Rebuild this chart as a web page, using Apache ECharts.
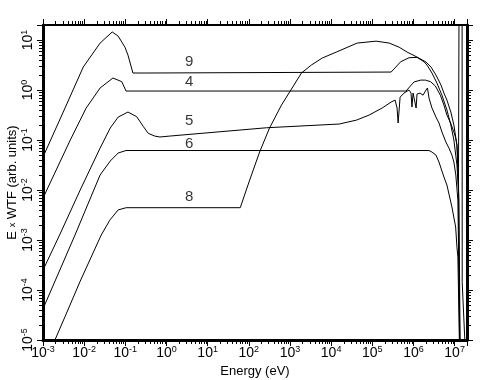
<!DOCTYPE html>
<html><head><meta charset="utf-8">
<script src="https://cdn.jsdelivr.net/npm/echarts@6/dist/echarts.min.js"></script>
<style>html,body{margin:0;padding:0;background:#fff}#c{width:486px;height:380px}</style>
</head><body><div id="c"></div>
<script>
// Curve 9
const energy9 = [0.001, 0.0031, 0.0095, 0.0244, 0.048, 0.067, 0.098, 0.116, 0.153, 0.32, 0.355, 2.87e5, 4.9e5, 7.8e5, 1.22e6, 1.81e6, 2.13e6, 2.82e6, 3.72e6, 4.92e6, 6.5e6, 8.1e6, 9.6e6, 1.14e7, 1.24e7, 1.28e7, 1.52e7, 1.53e7, 1.77e7];
const wtf9    = [0.0457, 0.363, 2.88, 8.7, 14.5, 12, 7.2, 5.0, 2.19, 2.19, 2.29, 2.29, 3.68, 4.43, 4.5, 3.68, 3.16, 2.19, 1.38, 0.79, 0.40, 0.2, 0.1, 0.0316, 0.01, 40, 40, 1.4e-4, 1e-5];
// Curve 4
const energy4 = [0.001, 0.0046, 0.0112, 0.0244, 0.050, 0.082, 0.104, 6.6e5, 1.03e6, 1.5e6, 1.96e6, 2.6e6, 3.4e6, 4.5e6, 5.5e6, 6.5e6, 8.0e6, 9.6e6, 1.06e7, 1.14e7, 1.27e7, 1.36e7];
const wtf4    = [0.0069, 0.10, 0.437, 1.1, 1.74, 1.47, 0.955, 0.955, 1.45, 1.58, 1.58, 1.47, 1.21, 0.79, 0.5, 0.316, 0.219, 0.145, 0.11, 0.079, 0.0063, 1e-5];
// Curve 5
const energy5 = [0.001, 0.0026, 0.008, 0.0244, 0.043, 0.067, 0.116, 0.19, 0.273, 0.36, 0.52, 0.69, 1.2, 270, 1.58e4, 4.1e4, 8.4e4, 1.74e5, 2.87e5, 3.58e5, 4.0e5, 4.24e5, 4.74e5, 5.9e5, 7.8e5, 8.75e5, 9.2e5, 9.8e5, 1.09e6, 1.16e6, 1.22e6, 1.45e6, 1.71e6, 2.02e6, 2.19e6, 2.39e6, 2.82e6, 3.52e6, 4.17e6, 4.92e6, 6.15e6, 7.3e6, 8.6e6, 9.6e6, 1.07e7, 1.2e7, 1.34e7];
const wtf5    = [2.5e-4, 1.32e-3, 0.01, 0.069, 0.174, 0.288, 0.363, 0.292, 0.187, 0.136, 0.120, 0.115, 0.120, 0.176, 0.209, 0.25, 0.316, 0.437, 0.575, 0.63, 0.437, 0.219, 0.72, 0.87, 1.0, 0.87, 0.457, 0.87, 0.87, 0.437, 0.83, 0.87, 0.79, 1.0, 1.1, 0.69, 0.437, 0.288, 0.219, 0.145, 0.091, 0.069, 0.05, 0.0363, 0.02, 0.0063, 1e-5];
// Curve 6
const energy6 = [0.001, 0.006, 0.0244, 0.043, 0.067, 0.104, 2.39e6, 2.82e6, 3.52e6, 4.17e6, 4.66e6, 5.5e6, 6.5e6, 8.6e6, 1.06e7, 1.14e7, 1.2e7, 1.31e7];
const wtf6    = [4.2e-5, 1.26e-3, 0.02, 0.038, 0.055, 0.0617, 0.0617, 0.0575, 0.05, 0.0363, 0.0275, 0.0182, 0.0126, 0.00457, 0.00182, 7.2e-4, 4.6e-4, 1e-5];
// Curve 8
const energy8 = [0.001, 0.00347, 0.008, 0.026, 0.042, 0.067, 0.105, 62, 105, 183, 319, 622, 1090, 1900, 3300, 6100, 1.34e4, 4.3e4, 1.24e5, 2.57e5, 4.48e5, 7.0e5, 1.22e6, 2.02e6, 2.67e6, 3.52e6, 4.66e6, 5.5e6, 6.5e6, 8.1e6, 9.6e6, 1.14e7, 1.24e7, 1.31e7];
const wtf8    = [2.8e-6, 3.0e-5, 1.5e-4, 1.26e-3, 0.0025, 0.004, 0.00443, 0.00443, 0.0158, 0.0575, 0.174, 0.50, 1.05, 2.19, 3.16, 4.37, 5.75, 8.7, 9.5, 8.7, 7.2, 5.75, 4.57, 3.63, 2.88, 2.0, 1.26, 0.87, 0.63, 0.363, 0.2, 0.079, 0.025, 1e-5];
// Curve labels
const labelText   = ['9', '4', '5', '6', '8'];
const labelEnergy = [3.55, 3.55, 3.55, 3.55, 3.55];
const labelWtf    = [3.68, 1.43, 0.24, 0.083, 0.00735];
// Axis ranges and minor tick multipliers
const xMin = 1e-3, xMax = 2e7, yMin = 1e-5, yMax = 20;
const minorMultipliers = [2, 3, 4, 5, 6, 7, 8, 9];
const xTitle = 'Energy (eV)';

const FONT = 'Liberation Sans';
function zip(a, b) { return a.map((v, i) => [v, b[i]]); }
function minorValues(lo, hi) {
  const out = [];
  for (let e = Math.floor(Math.log10(lo)); e <= Math.ceil(Math.log10(hi)); e++) {
    for (const m of minorMultipliers) { const v = m * Math.pow(10, e); if (v > lo * 1.0001 && v < hi * 0.9999) out.push(v); }
  }
  return out;
}
function supLabel(v) {
  const l = Math.log10(v), e = Math.round(l);
  if (Math.abs(l - e) > 1e-6) return '';
  return '{b|10}{e|' + e + '}';
}
const rich = {
  b: {fontSize: 14, fontFamily: FONT, color: '#000', lineHeight: 16},
  e: {fontSize: 9, fontFamily: FONT, color: '#000', lineHeight: 16, verticalAlign: 'top'}
};
function axisCommon(showLabel, rot, margin, lw) {
  return {
    type: 'log', logBase: 10, interval: 1,
    axisLine: {show: true, onZero: false, lineStyle: {color: '#000', width: lw}},
    axisTick: {show: true, length: 6, lineStyle: {color: '#000', width: 1}},
    minorTick: {show: false},
    splitLine: {show: false}, minorSplitLine: {show: false},
    axisLabel: {show: showLabel, formatter: supLabel, rich: rich, rotate: rot, margin: margin, align: 'center', hideOverlap: false, showMinLabel: true, showMaxLabel: true}
  };
}
const TL = 4;
const tickStyle = {stroke: '#000', lineWidth: 1};
function px(v) { return Math.round(v) + 0.5; }
const chart = echarts.init(document.getElementById('c'));
const series = [[energy9, wtf9], [energy4, wtf4], [energy5, wtf5], [energy6, wtf6], [energy8, wtf8]].map(c => ({
  type: 'line', data: zip(c[0], c[1]), symbol: 'none', showSymbol: false, clip: true, silent: true,
  lineStyle: {color: '#000', width: 1}, animation: false
}));
series.push({
  type: 'scatter', symbolSize: 0, silent: true, animation: false,
  data: labelText.map((t, i) => ({name: t, value: [labelEnergy[i], labelWtf[i]]})),
  label: {show: true, position: 'inside', formatter: '{b}', fontSize: 15, fontFamily: FONT, color: '#000'}
});
// minor ticks on bottom/top (log-distributed, placed through the x scale)
series.push({
  type: 'custom', silent: true, clip: false, animation: false, z: 10,
  data: minorValues(xMin, xMax).map(v => [v, yMin]),
  renderItem: function (params, api) {
    const v = api.value(0);
    const b = api.coord([v, yMin]), t = api.coord([v, yMax]);
    const x = px(b[0]);
    return {type: 'group', children: [
      {type: 'line', shape: {x1: x, y1: b[1], x2: x, y2: b[1] + TL}, style: tickStyle},
      {type: 'line', shape: {x1: x, y1: t[1], x2: x, y2: t[1] - TL}, style: tickStyle}
    ]};
  }
});
// minor ticks on left/right
series.push({
  type: 'custom', silent: true, clip: false, animation: false, z: 10,
  data: minorValues(yMin, yMax).map(v => [xMin, v]),
  renderItem: function (params, api) {
    const v = api.value(1);
    const l = api.coord([xMin, v]), r = api.coord([xMax, v]);
    const y = px(l[1]);
    return {type: 'group', children: [
      {type: 'line', shape: {x1: l[0], y1: y, x2: l[0] - TL, y2: y}, style: tickStyle},
      {type: 'line', shape: {x1: r[0], y1: y, x2: r[0] + TL, y2: y}, style: tickStyle}
    ]};
  }
});
chart.setOption({
  backgroundColor: '#fff',
  animation: false,
  grid: {left: 43, right: 19, top: 25, bottom: 40, containLabel: false, outerBoundsMode: 'none'},
  xAxis: [
    Object.assign(axisCommon(true, 0, 5, 3), {min: xMin, max: xMax, position: 'bottom',
      name: xTitle, nameLocation: 'middle', nameGap: 25,
      nameTextStyle: {fontSize: 13, fontFamily: FONT, color: '#000'}}),
    Object.assign(axisCommon(false, 0, 5, 2), {min: xMin, max: xMax, position: 'top'})
  ],
  yAxis: [
    Object.assign(axisCommon(true, 90, 7, 3), {min: yMin, max: yMax, position: 'left',
      name: '{a|E }{s|x}{a| WTF (arb. units)}', nameLocation: 'middle', nameGap: 24, nameMoveOverlap: false,
      nameTextStyle: {fontSize: 13, fontFamily: FONT, color: '#000',
        rich: {a: {fontSize: 13, fontFamily: FONT, color: '#000'}, s: {fontSize: 9, fontFamily: FONT, color: '#000'}}}}),
    Object.assign(axisCommon(false, 90, 8, 3), {min: yMin, max: yMax, position: 'right'})
  ],
  series: series
});
</script></body></html>
